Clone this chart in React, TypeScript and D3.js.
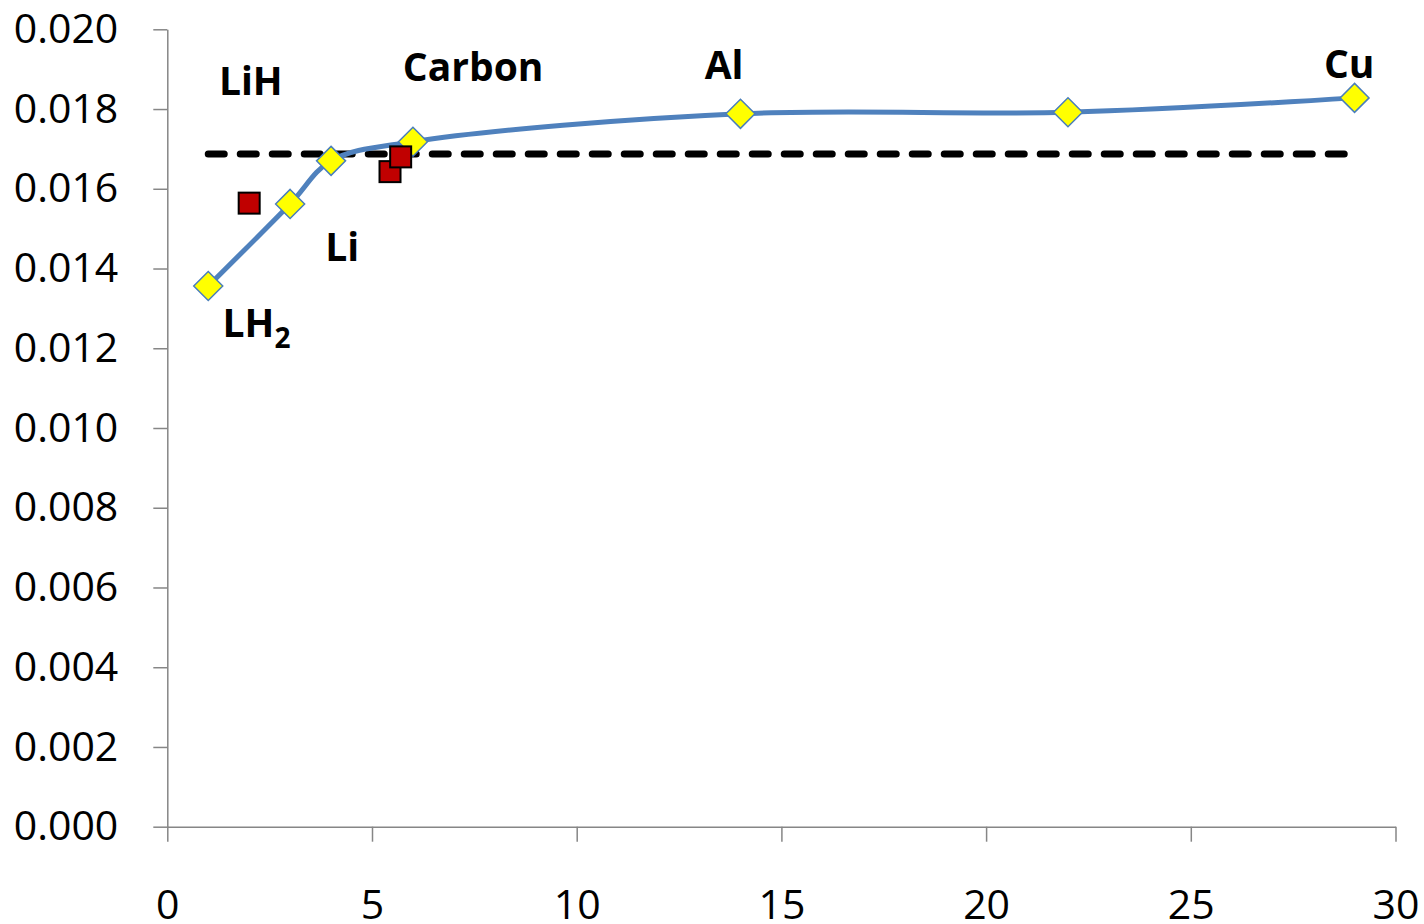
import React, { useEffect, useRef } from 'react';
import * as d3 from 'd3';

// Blue smoothed series (yellow diamonds)
const seriesX = [1, 3, 4, 6, 14, 22, 29];
const seriesY = [0.01356, 0.01562, 0.01670, 0.01718, 0.01788, 0.01792, 0.01828];

// Red squares
const squareX = [2.0, 5.44, 5.70];
const squareY = [0.01564, 0.01643, 0.01680];

// Dashed reference line
const refY = 0.01687;
const refX = [1, 29];

// Labels (text, data x at centre, data y at baseline)
const labelText = ['LiH', 'Li', 'Carbon', 'Al', 'Cu'];
const labelX = [2.04, 4.27, 7.47, 13.6, 28.87];
const labelY = [0.01835, 0.0142, 0.01871, 0.01875, 0.01877];

const xTicks = [0, 5, 10, 15, 20, 25, 30];
const yTicks = [0, 0.002, 0.004, 0.006, 0.008, 0.01, 0.012, 0.014, 0.016, 0.018, 0.02];

const App = () => {
  const svgRef = useRef<SVGSVGElement>(null);

  useEffect(() => {
    const width = 1424;
    const height = 924;
    const margin = { top: 29.3, right: 28.5, bottom: 97.3, left: 167.3 };
    const innerW = width - margin.left - margin.right;
    const innerH = height - margin.top - margin.bottom;

    d3.select(svgRef.current).selectAll('*').remove();

    const svg = d3.select(svgRef.current)
      .attr('width', width)
      .attr('height', height)
      .append('g')
      .attr('transform', `translate(${margin.left},${margin.top})`);

    const x = d3.scaleLinear().domain([0, 30]).range([0, innerW]);
    const y = d3.scaleLinear().domain([0, 0.02]).range([innerH, 0]);

    const axisColor = '#868686';
    const font = "'Open Sans', sans-serif";

    // Y axis
    const yAxis = svg.append('g')
      .call(d3.axisLeft(y).tickValues(yTicks).tickSize(14).tickSizeOuter(0).tickPadding(35)
        .tickFormat(d3.format('.3f')));
    yAxis.select('.domain').attr('stroke', axisColor).attr('stroke-width', 1.5);
    yAxis.selectAll('.tick line').attr('stroke', axisColor).attr('stroke-width', 1.5);
    yAxis.selectAll('.tick text')
      .attr('fill', '#000')
      .style('font-family', font)
      .style('font-size', '41px');

    // X axis
    const xAxis = svg.append('g')
      .attr('transform', `translate(0,${innerH})`)
      .call(d3.axisBottom(x).tickValues(xTicks).tickSize(15).tickSizeOuter(0).tickPadding(48)
        .tickFormat(d3.format('d')));
    xAxis.select('.domain').attr('stroke', axisColor).attr('stroke-width', 1.5);
    xAxis.selectAll('.tick line').attr('stroke', axisColor).attr('stroke-width', 1.5);
    xAxis.selectAll('.tick text')
      .attr('fill', '#000')
      .style('font-family', font)
      .style('font-size', '41px');

    // Dashed line
    svg.append('line')
      .attr('x1', x(refX[0]))
      .attr('x2', x(refX[1]))
      .attr('y1', y(refY))
      .attr('y2', y(refY))
      .attr('stroke', '#000')
      .attr('stroke-width', 7)
      .attr('stroke-linecap', 'round')
      .attr('stroke-dasharray', '16,16');

    // Smoothed line
    const pts = seriesX.map((v, i) => [v, seriesY[i]] as [number, number]);
    const line = d3.line<[number, number]>()
      .x(d => x(d[0]))
      .y(d => y(d[1]))
      .curve(d3.curveCatmullRom.alpha(0.5));

    svg.append('path')
      .datum(pts)
      .attr('d', line)
      .attr('fill', 'none')
      .attr('stroke', '#4f81bd')
      .attr('stroke-width', 5);

    // Diamonds
    const r = 14.5;
    svg.selectAll('.diamond')
      .data(pts)
      .enter().append('path')
      .attr('class', 'diamond')
      .attr('transform', d => `translate(${x(d[0])},${y(d[1])})`)
      .attr('d', `M0,${-r}L${r},0L0,${r}L${-r},0Z`)
      .attr('fill', '#ffff00')
      .attr('stroke', '#4a7ebb')
      .attr('stroke-width', 1.5);

    // Red squares
    const s = 21;
    svg.selectAll('.sq')
      .data(squareX.map((v, i) => [v, squareY[i]]))
      .enter().append('rect')
      .attr('class', 'sq')
      .attr('x', d => x(d[0]) - s / 2)
      .attr('y', d => y(d[1]) - s / 2)
      .attr('width', s)
      .attr('height', s)
      .attr('fill', '#c00000')
      .attr('stroke', '#000')
      .attr('stroke-width', 2);

    // Labels
    svg.selectAll('.lbl')
      .data(labelText)
      .enter().append('text')
      .attr('class', 'lbl')
      .attr('x', (d, i) => x(labelX[i]))
      .attr('y', (d, i) => y(labelY[i]))
      .attr('text-anchor', 'middle')
      .style('font-family', font)
      .style('font-weight', 'bold')
      .style('font-size', '39px')
      .text(d => d);

    // LH2 with subscript
    const lh = svg.append('text')
      .attr('x', x(1.35))
      .attr('y', y(0.01229))
      .style('font-family', font)
      .style('font-weight', 'bold')
      .style('font-size', '39px');
    lh.append('tspan').text('LH');
    lh.append('tspan').attr('dy', 11).style('font-size', '28px').text('2');
  }, []);

  return <svg ref={svgRef} style={{ position: 'absolute', left: 0, top: 0 }}></svg>;
};

export default App;
